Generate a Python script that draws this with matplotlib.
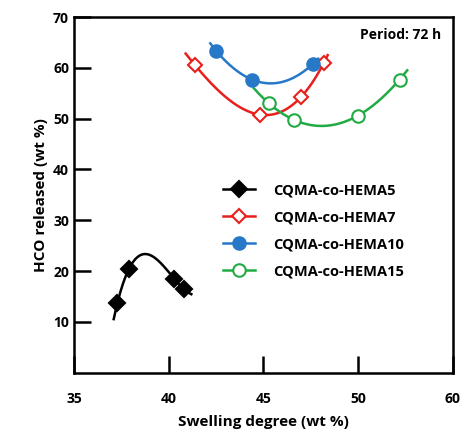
import numpy as np
import matplotlib
matplotlib.use("Agg")
import matplotlib.pyplot as plt

plt.rcParams['font.family'] = ['Open Sans', 'DejaVu Sans']

labels = ['CQMA-co-HEMA5', 'CQMA-co-HEMA7', 'CQMA-co-HEMA10', 'CQMA-co-HEMA15']
x5 = [37.3, 37.9, 40.3, 40.8]
y5 = [13.8, 20.4, 18.5, 16.5]
x7 = [41.4, 44.8, 47.0, 48.2]
y7 = [60.5, 50.8, 54.3, 61.0]
x10 = [42.5, 44.4, 47.6]
y10 = [63.4, 57.7, 60.7]
x15 = [45.3, 46.6, 50.0, 52.2]
y15 = [53.0, 49.8, 50.6, 57.7]
fit_ranges = [(37.1, 41.2), (40.9, 48.4), (42.2, 47.9), (44.5, 52.6)]
xticks = [35, 40, 45, 50, 55]
xticklabels = ['35', '40', '45', '50', '60']
yticks = [10, 20, 30, 40, 50, 60, 70]

series = [(x5, y5), (x7, y7), (x10, y10), (x15, y15)]
colors = ['black', '#e8201c', '#2878c8', '#22aa44']
markers = ['D', 'D', 'o', 'o']
faces = ['black', 'white', '#2878c8', 'white']
msizes = [8, 7.5, 9, 9]

fig = plt.figure(figsize=(4.74, 4.36), dpi=100)
ax = fig.add_axes([0.156, 0.145, 0.799, 0.816])
handles = []
for (xs, ys), c, m, f, ms, lab, (a, b) in zip(series, colors, markers, faces, msizes, labels, fit_ranges):
    deg = len(xs) - 1
    p = np.polyfit(xs, ys, deg)
    xx = np.linspace(a, b, 200)
    ax.plot(xx, np.polyval(p, xx), color=c, lw=1.8, zorder=2)
    ax.plot(xs, ys, ls='none', marker=m, mfc=f, mec=c, mew=1.5, ms=ms, zorder=3)
    h, = ax.plot([], [], color=c, lw=1.8, marker=m, mfc=f, mec=c, mew=1.5, ms=ms)
    handles.append(h)

ax.set_xlim(35, 55)
ax.set_ylim(0, 70)
ax.set_xticks(xticks)
ax.set_xticklabels(xticklabels)
ax.set_yticks(yticks)
ax.tick_params(direction='in', length=12, width=1.8, labelsize=10)
for lab in ax.get_xticklabels() + ax.get_yticklabels():
    lab.set_fontweight('bold')
ax.tick_params(axis='x', pad=14)
for s in ax.spines.values():
    s.set_linewidth(1.8)
ax.set_xlabel('Swelling degree (wt %)', fontsize=11, fontweight='bold', labelpad=6)
ax.set_ylabel('HCO released (wt %)', fontsize=11, fontweight='bold')
ax.text(0.97, 0.95, 'Period: 72 h', transform=ax.transAxes, ha='right', va='center',
        fontsize=10, fontweight='bold')
leg = ax.legend(handles, labels, loc='upper left', bbox_to_anchor=(0.36, 0.57),
                frameon=False, labelspacing=0.9, handlelength=2.2, handletextpad=1.2,
                prop={'weight': 'bold', 'size': 10.5})
fig.savefig('out.png', dpi=100)
